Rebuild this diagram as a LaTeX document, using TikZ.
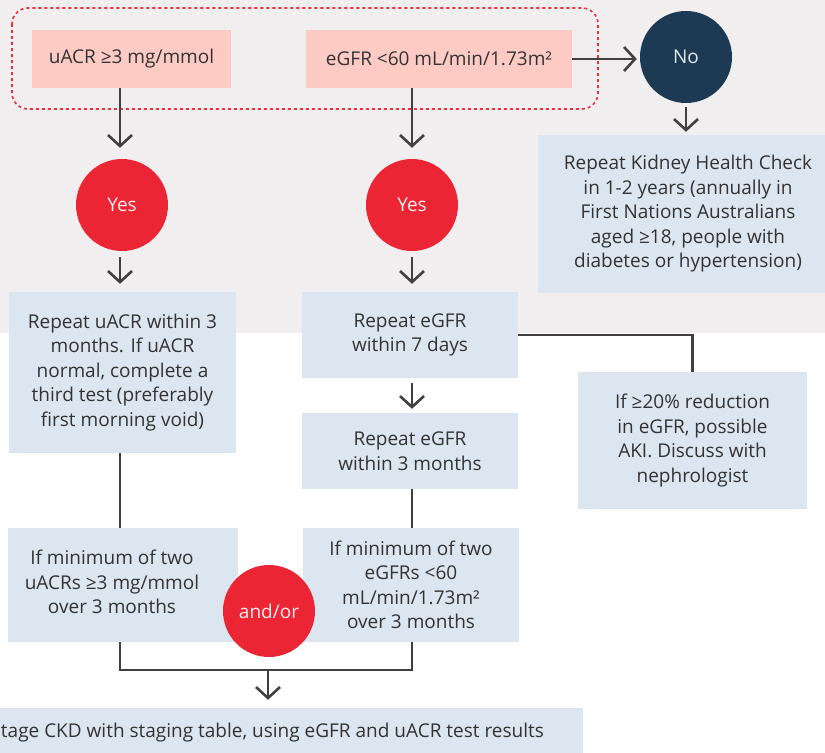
\documentclass[tikz,border=0pt]{standalone}
\usepackage{fontspec}
\setmainfont{Open Sans}
\usetikzlibrary{arrows.meta}
\definecolor{bggrey}{HTML}{F0EEEF}
\definecolor{boxblue}{HTML}{DCE6F0}
\definecolor{boxpink}{HTML}{FDCBC4}
\definecolor{cred}{HTML}{EC2534}
\definecolor{cnavy}{HTML}{1C3A53}
\definecolor{lncol}{HTML}{404040}
\definecolor{txt}{HTML}{333333}
\definecolor{dashred}{HTML}{EE2F3C}
\newcommand{\fs}{\fontsize{19bp}{24.5bp}\selectfont}
\tikzset{
  box/.style={fill=boxblue, inner sep=0pt, align=center, text=txt, font=\fs},
  pinkbox/.style={fill=boxpink, inner sep=0pt, align=center, text=txt, font=\fs, minimum height=58bp},
  circ/.style={circle, inner sep=0pt, minimum size=92bp, font=\fs},
  redcirc/.style={circ, fill=cred, text=white!92!cred},
  navycirc/.style={circ, fill=cnavy, text=white!88!cnavy},
  conn/.style={draw=lncol, line width=2.6bp},
  arr/.style={conn, -{Straight Barb[length=11bp,width=24bp]}},
}
\begin{document}
\begin{tikzpicture}[x=1bp,y=-1bp]
\useasboundingbox (0,0) rectangle (825,753);
\fill[white] (0,0) rectangle (825,753);
\fill[bggrey] (0,0) rectangle (825,333);
\draw[dashred, line width=1.6bp, dash pattern=on 3bp off 3bp, rounded corners=16bp] (12,8) rectangle (598,109);

\coordinate (c1) at (120,0);
\coordinate (c2) at (412,0);

\node[pinkbox, minimum width=199bp] (p1) at (131.5,59) {uACR ≥3 mg/mmol};
\node[pinkbox, minimum width=266bp] (p2) at (439,59) {eGFR <60 mL/min/1.73m²};
\node[navycirc] (no) at (686,57) {No};
\node[box, minimum width=287bp, minimum height=158bp] (khc) at (681.5,214) {\hspace*{13bp}Repeat Kidney Health Check\\\hspace*{13bp}in 1-2 years (annually in\\\hspace*{13bp}First Nations Australians\\\hspace*{13bp}aged ≥18, people with\\\hspace*{13bp}diabetes or hypertension)};

\node[redcirc] (y1) at (122,205) {Yes};
\node[redcirc] (y2) at (412,205) {Yes};

\node[box, minimum width=227bp, minimum height=161bp] (r1) at (122.5,372.5) {Repeat uACR within 3\\months. If uACR\\normal, complete a\\third test (preferably\\first morning void)};
\node[box, minimum width=216bp, minimum height=86bp] (r7) at (410,335) {Repeat eGFR\\within 7 days};
\node[box, minimum width=216bp, minimum height=76bp] (r3) at (410,451) {Repeat eGFR\\within 3 months};
\node[box, minimum width=229bp, minimum height=137bp] (aki) at (692.5,440.5) {If ≥20\% reduction\\in eGFR, possible\\AKI. Discuss with\\nephrologist};

\node[box, minimum width=230bp, minimum height=114bp,
  label={[box, xshift=-11bp, yshift=3bp]center:{If minimum of two\\uACRs ≥3 mg/mmol\\over 3 months}}] (bl) at (123,585) {};
\node[box, minimum width=216bp, minimum height=114bp] (br) at (411,585) {If minimum of two\\eGFRs <60\\mL/min/1.73m²\\over 3 months};
\node[redcirc] (ao) at (269,611) {and/or};

\node[box, minimum width=583bp, minimum height=45bp,
  label={[box, anchor=west, xshift=1bp, yshift=-2.5bp]west:{tage CKD with staging table, using eGFR and uACR test results}}] (fin) at (291.5,730.5) {};

\coordinate (j) at (268,670);

% connectors
\draw[arr, shorten >=3bp] (p2.east) -- (p2.east -| no.west);
\draw[arr, shorten <=4bp, shorten >=3bp] (no.south) -- (no.south |- khc.north);
\draw[arr, shorten >=11bp] (p1.south -| c1) -- (c1 |- y1.north);
\draw[arr, shorten >=11bp] (p2.south -| c2) -- (c2 |- y2.north);
\draw[arr, shorten <=6bp, shorten >=8bp] (c1 |- y1.south) -- (c1 |- r1.north);
\draw[arr, shorten <=6bp, shorten >=8bp] (c2 |- y2.south) -- (c2 |- r7.north);
\draw[conn] (r7.east) -| (aki.north);
\draw[arr, shorten <=5bp, shorten >=4bp] (c2 |- r7.south) -- (c2 |- r3.north);
\draw[conn] (c2 |- r3.south) -- (c2 |- br.north);
\draw[conn] (c1 |- r1.south) -- (c1 |- bl.north);
\draw[conn] (c1 |- bl.south) -- (c1 |- j) -- (c2 |- j) -- (c2 |- br.south);
\draw[arr, shorten >=8bp] (j) -- (j |- fin.north);
\end{tikzpicture}
\end{document}
